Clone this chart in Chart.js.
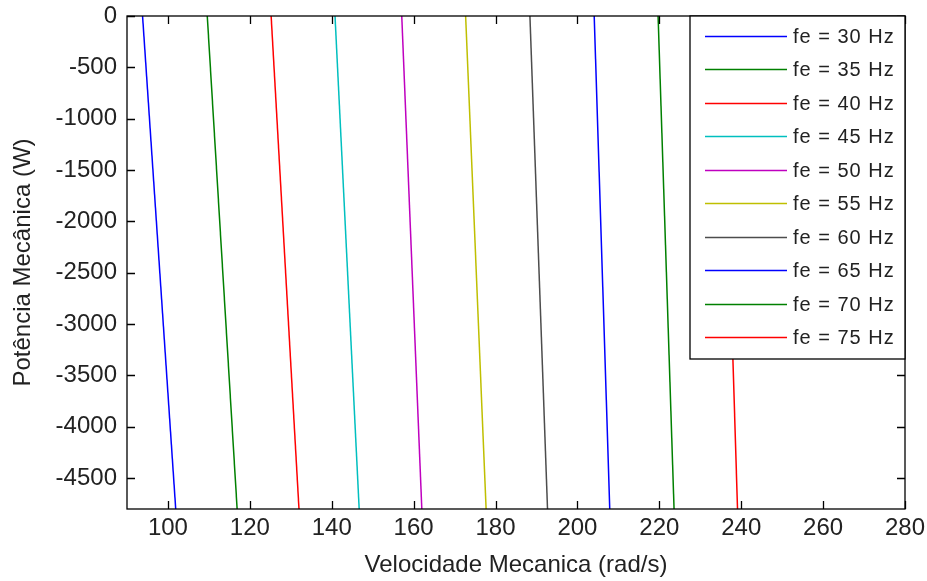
<!DOCTYPE html>
<html>
<head>
<meta charset="utf-8">
<script src="https://cdn.jsdelivr.net/npm/chart.js@4.4.1/dist/chart.umd.min.js"></script>
<style>
  body { margin: 0; background: #fff; }
  #graph { display: block; }
</style>
</head>
<body>
<canvas id="graph" width="927" height="581"></canvas>
<script>
// frequencies of each curve (Hz)
const frequencies = [30, 35, 40, 45, 50, 55, 60, 65, 70, 75];
// speed read at P = 0 W and at the bottom of the axis (P = -4800 W)
const powerLevels = [0, -4800];
const speedAtTop = [93.8, 109.6, 125.2, 140.8, 157.1, 172.7, 188.4, 204.1, 219.7, 235.4];
const speedAtBottom = [101.9, 116.9, 132.0, 146.7, 162.0, 177.7, 192.7, 207.9, 223.6, 239.1];
// tick labels
const xTickValues = [100, 120, 140, 160, 180, 200, 220, 240, 260, 280];
const yTickValues = [0, -500, -1000, -1500, -2000, -2500, -3000, -3500, -4000, -4500];

const lineColors = ['#0000ff', '#008000', '#ff0000', '#00bfbf', '#bf00bf', '#bfbf00', '#4d4d4d', '#0000ff', '#008000', '#ff0000'];
const textColor = '#222';

const datasets = frequencies.map((f, i) => ({
    label: 'fe = ' + f + ' Hz',
    data: [
        { x: speedAtTop[i], y: powerLevels[0] },
        { x: speedAtBottom[i], y: powerLevels[1] }
    ],
    borderColor: lineColors[i],
    backgroundColor: lineColors[i],
    borderWidth: 1.5,
    pointRadius: 0,
    tension: 0,
    fill: false
}));

// box + inward ticks on all four sides, like matlab
const boxPlugin = {
    id: 'boxPlugin',
    afterDatasetsDraw(chart) {
        const ctx = chart.ctx;
        const a = chart.chartArea;
        const xs = chart.scales.x;
        const ys = chart.scales.y;
        const len = 8;
        ctx.save();
        ctx.strokeStyle = '#000';
        ctx.lineWidth = 1.3;
        ctx.beginPath();
        xTickValues.forEach(v => {
            const px = Math.round(xs.getPixelForValue(v)) + 0.5;
            ctx.moveTo(px, a.bottom);
            ctx.lineTo(px, a.bottom - len);
            ctx.moveTo(px, a.top);
            ctx.lineTo(px, a.top + len);
        });
        yTickValues.forEach(v => {
            const py = Math.round(ys.getPixelForValue(v)) + 0.5;
            ctx.moveTo(a.left, py);
            ctx.lineTo(a.left + len, py);
            ctx.moveTo(a.right, py);
            ctx.lineTo(a.right - len, py);
        });
        ctx.stroke();
        ctx.strokeRect(a.left, a.top, a.right - a.left, a.bottom - a.top);
        ctx.restore();
    }
};

// legend box in the upper right corner of the plot
const legendPlugin = {
    id: 'legendPlugin',
    afterDraw(chart) {
        const ctx = chart.ctx;
        const a = chart.chartArea;
        const boxLeft = 690;
        const boxRight = a.right;
        const boxTop = a.top;
        const boxBottom = 359;
        const rowStart = 36;
        const rowStep = 33.45;
        ctx.save();
        ctx.fillStyle = '#fff';
        ctx.fillRect(boxLeft, boxTop, boxRight - boxLeft, boxBottom - boxTop);
        ctx.strokeStyle = '#000';
        ctx.lineWidth = 1.3;
        ctx.strokeRect(boxLeft, boxTop, boxRight - boxLeft, boxBottom - boxTop);
        ctx.font = '20px "Liberation Sans", Arial, sans-serif';
        ctx.letterSpacing = '1px';
        ctx.textBaseline = 'middle';
        ctx.textAlign = 'left';
        chart.data.datasets.forEach((ds, i) => {
            const y = Math.round(rowStart + i * rowStep) + 0.5;
            ctx.strokeStyle = ds.borderColor;
            ctx.lineWidth = 1.5;
            ctx.beginPath();
            ctx.moveTo(705, y);
            ctx.lineTo(787, y);
            ctx.stroke();
            ctx.fillStyle = textColor;
            ctx.fillText(ds.label, 793, y + 1);
        });
        ctx.restore();
    }
};

function noPadding(scale) {
    scale.paddingTop = 0;
    scale.paddingBottom = 0;
    scale.paddingLeft = 0;
    scale.paddingRight = 0;
}

const ctx = document.getElementById('graph').getContext('2d');
new Chart(ctx, {
    type: 'line',
    data: { datasets: datasets },
    options: {
        responsive: false,
        animation: false,
        layout: {
            autoPadding: false,
            padding: { left: 0, right: 22, top: 16, bottom: 0 }
        },
        plugins: {
            legend: { display: false },
            tooltip: { enabled: false }
        },
        scales: {
            x: {
                type: 'linear',
                min: 90,
                max: 280,
                grid: { display: false, drawTicks: false },
                border: { display: false },
                afterBuildTicks: scale => { scale.ticks = xTickValues.map(v => ({ value: v })); },
                afterFit: scale => { scale.height = 72; noPadding(scale); },
                ticks: {
                    autoSkip: false,
                    maxRotation: 0,
                    padding: 5,
                    color: textColor,
                    callback: v => String(v),
                    font: { family: '"Liberation Sans", Arial, sans-serif', size: 24 }
                },
                title: {
                    display: true,
                    text: 'Velocidade Mecanica (rad/s)',
                    color: textColor,
                    padding: { top: 0, bottom: 1 },
                    font: { family: '"Liberation Sans", Arial, sans-serif', size: 24 }
                }
            },
            y: {
                type: 'linear',
                min: -4800,
                max: 0,
                grid: { display: false, drawTicks: false },
                border: { display: false },
                afterBuildTicks: scale => { scale.ticks = yTickValues.map(v => ({ value: v })); },
                afterFit: scale => { scale.width = 127; noPadding(scale); },
                ticks: {
                    autoSkip: false,
                    padding: 10,
                    color: textColor,
                    callback: v => String(v),
                    font: { family: '"Liberation Sans", Arial, sans-serif', size: 24 }
                },
                title: {
                    display: true,
                    text: 'Potência Mecânica (W)',
                    color: textColor,
                    padding: { top: 9, bottom: 0 },
                    font: { family: '"Liberation Sans", Arial, sans-serif', size: 24 }
                }
            }
        }
    },
    plugins: [boxPlugin, legendPlugin]
});
</script>
</body>
</html>
